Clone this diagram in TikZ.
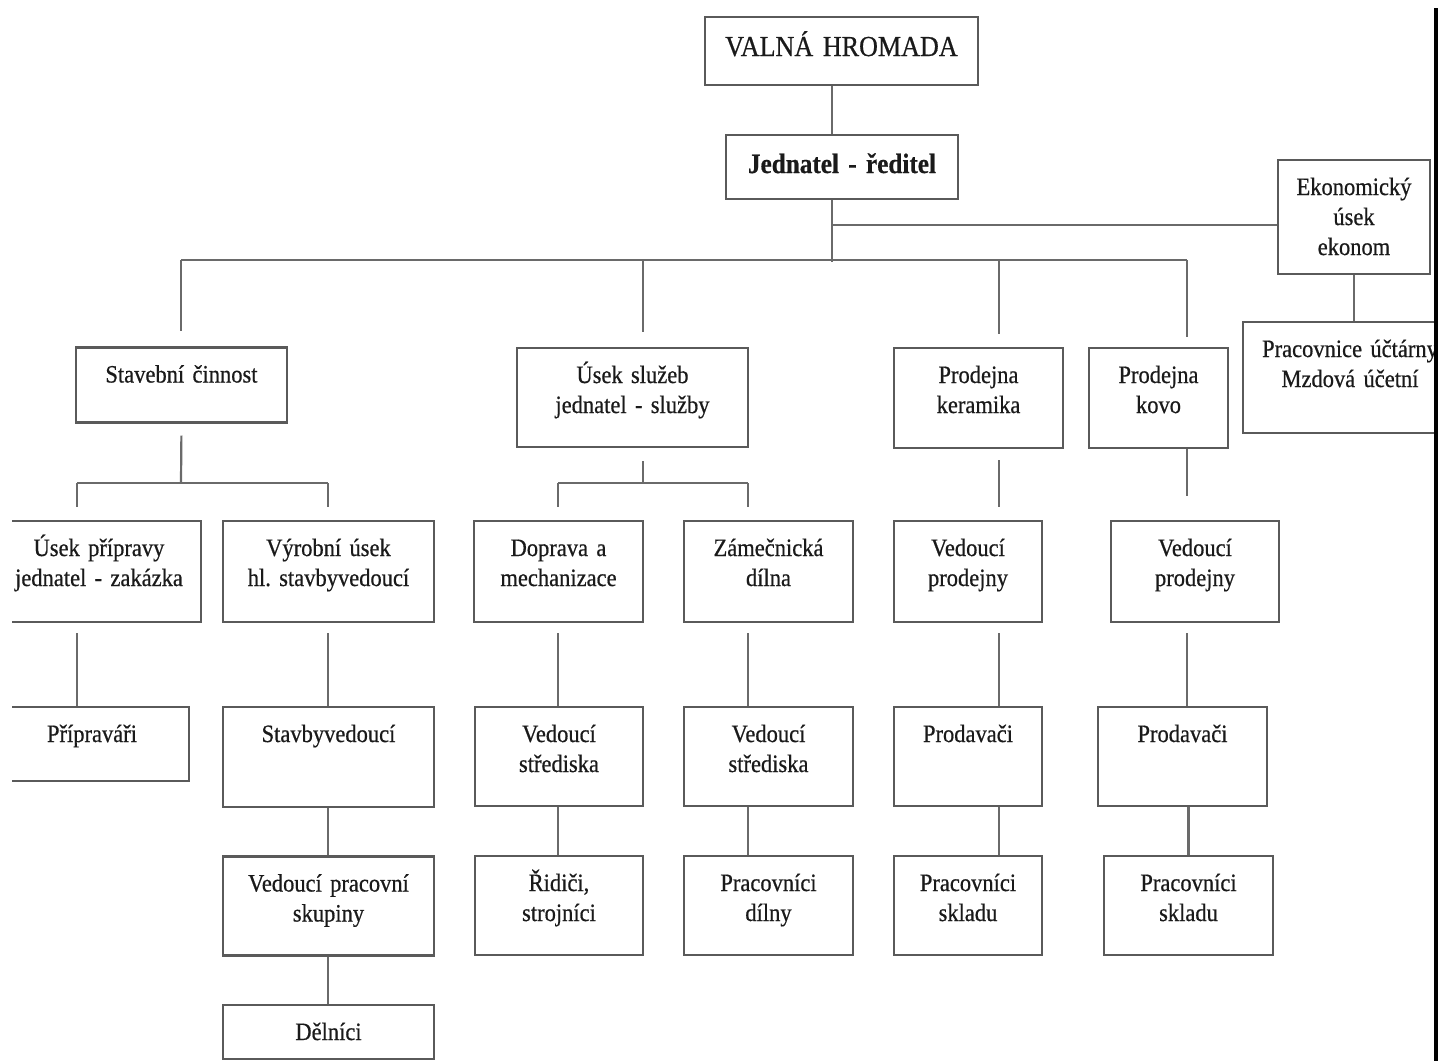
\documentclass[tikz,border=0pt]{standalone}
\usepackage{fontspec}
\setmainfont{Liberation Serif}[FakeStretch=0.9, FakeBold=0.6, WordSpace=0.75]
\usepackage{tikz}
\usetikzlibrary{positioning}
\definecolor{framegray}{HTML}{5A5A5A}
\definecolor{linegray}{HTML}{6A6A6A}
\definecolor{inkblack}{HTML}{1A1A1A}
\newcommand{\boxfont}{\fontsize{25pt}{30pt}\selectfont\frenchspacing}
\newcommand{\topfont}{\fontsize{29pt}{34pt}\selectfont}
\newcommand{\chieffont}{\fontsize{28pt}{33pt}\selectfont\bfseries}
\tikzset{
    box/.style 2 args={draw=framegray, line width=2.4pt, text=inkblack, font=\boxfont,
        inner xsep=0pt, inner ysep=14pt, align=center,
        text width=#1pt, text height=21pt, text depth=#2pt-49pt}, % width and height of the box, text sits at the top
    conn/.style={draw=linegray, line width=2.2pt}, % the connecting lines
}

\begin{document}
\begin{tikzpicture}[x=1pt, y=-1pt]
    \useasboundingbox (0,0) rectangle (1438,1061);
    \begin{scope}
        \clip (12,10) rectangle (1434,1061);

        % top of the company
        \node[box={273}{68}, font=\topfont, text height=25pt, text depth=15pt] (vh) at (841.5,51) {VALNÁ HROMADA};
        \node[box={232}{64}, font=\chieffont, text height=24pt, text depth=12pt] (jr) at (842,167) {Jednatel - ředitel};
        \node[box={152}{114}] (ek) at (1354,217) {Ekonomický\\úsek\\ekonom};
        \node[box={214}{111}] (pu) at (1350,377.5) {Pracovnice účtárny\\Mzdová účetní};

        % departments
        \node[box={211}{75}] (sc) at (181.5,385) {Stavební činnost};
        \node[box={231}{99}] (us) at (632.5,397.5) {Úsek služeb\\jednatel - služby};
        \node[box={169}{100}] (pk) at (978.5,398) {Prodejna\\keramika};
        \node[box={139}{100}] (pko) at (1158.5,398) {Prodejna\\kovo};

        % second row
        \node[box={204}{101}] (up) at (99,571.5) {Úsek přípravy\\jednatel - zakázka};
        \node[box={211}{101}] (vu) at (328.5,571.5) {Výrobní úsek\\hl. stavbyvedoucí};
        \node[box={169}{101}] (dm) at (558.5,571.5) {Doprava a\\mechanizace};
        \node[box={169}{101}] (zd) at (768.5,571.5) {Zámečnická\\dílna};
        \node[box={148}{101}] (vp1) at (968,571.5) {Vedoucí\\prodejny};
        \node[box={168}{101}] (vp2) at (1195,571.5) {Vedoucí\\prodejny};

        % third row
        \node[box={194}{74}] (pr) at (92,744) {Přípraváři};
        \node[box={211}{100}] (sv) at (328.5,757) {Stavbyvedoucí};
        \node[box={168}{99}] (vs1) at (559,756.5) {Vedoucí\\střediska};
        \node[box={169}{99}] (vs2) at (768.5,756.5) {Vedoucí\\střediska};
        \node[box={148}{99}] (pd1) at (968,756.5) {Prodavači};
        \node[box={169}{99}] (pd2) at (1182.5,756.5) {Prodavači};

        % fourth row
        \node[box={211}{99}] (vps) at (328.5,906) {Vedoucí pracovní\\skupiny};
        \node[box={168}{99}] (rs) at (559,905.5) {Řidiči,\\strojníci};
        \node[box={169}{99}] (pdi) at (768.5,905.5) {Pracovníci\\dílny};
        \node[box={148}{99}] (ps1) at (968,905.5) {Pracovníci\\skladu};
        \node[box={169}{99}] (ps2) at (1188.5,905.5) {Pracovníci\\skladu};
        \node[box={211}{54}, text depth=5pt] (dl) at (328.5,1032) {Dělníci};

        % joints of the lines
        \coordinate (trunk) at (832,262);
        \coordinate (ekjoin) at (832,225);
        \coordinate (busL) at (181,260);
        \coordinate (busU) at (643,260);
        \coordinate (busP) at (999,260);
        \coordinate (busR) at (1187,260);
        \coordinate (scjoin) at (181,483);
        \coordinate (scL) at (77,483);
        \coordinate (scR) at (328,483);
        \coordinate (usjoin) at (643,483);
        \coordinate (usL) at (558,483);
        \coordinate (usR) at (748,483);

        \draw[conn] (vh.south -| trunk) -- (jr.north -| trunk);
        \draw[conn] (jr.south -| trunk) -- (trunk);
        \draw[conn] (ekjoin) -- (ek.west |- ekjoin);
        \draw[conn] (ek.south) -- (ek.south |- pu.north);
        \draw[conn] (busL) -- (busR);
        \draw[conn, shorten >=15pt] (busL) -- (sc.north -| busL);
        \draw[conn, shorten >=15pt] (busU) -- (us.north -| busU);
        \draw[conn, shorten >=13pt] (busP) -- (pk.north -| busP);
        \draw[conn, shorten >=10pt] (busR) -- (pko.north -| busR);

        \draw[conn, shorten <=12pt] (sc.south) -- (scjoin);
        \draw[conn] (scL) -- (scR);
        \draw[conn, shorten >=13pt] (scL) -- (up.north -| scL);
        \draw[conn, shorten >=13pt] (scR) -- (vu.north -| scR);
        \draw[conn, shorten <=13pt] (us.south -| usjoin) -- (usjoin);
        \draw[conn] (usL) -- (usR);
        \draw[conn, shorten >=13pt] (usL) -- (dm.north -| usL);
        \draw[conn, shorten >=13pt] (usR) -- (zd.north -| usR);
        \draw[conn, shorten <=11pt, shorten >=13pt] (pk.south -| busP) -- (vp1.north -| busP);
        \draw[conn, shorten >=24pt] (pko.south -| busR) -- (vp2.north -| busR);

        \draw[conn, shorten <=10pt] (up.south -| scL) -- (pr.north -| scL);
        \draw[conn, shorten <=10pt] (vu.south -| scR) -- (sv.north -| scR);
        \draw[conn, shorten <=10pt] (dm.south -| usL) -- (vs1.north -| usL);
        \draw[conn, shorten <=10pt] (zd.south -| usR) -- (vs2.north -| usR);
        \draw[conn, shorten <=10pt] (vp1.south -| busP) -- (pd1.north -| busP);
        \draw[conn, shorten <=10pt] (vp2.south -| busR) -- (pd2.north -| busR);

        \draw[conn] (sv.south -| scR) -- (vps.north -| scR);
        \draw[conn] (vs1.south -| usL) -- (rs.north -| usL);
        \draw[conn] (vs2.south -| usR) -- (pdi.north -| usR);
        \draw[conn] (pd1.south -| busP) -- (ps1.north -| busP);
        \draw[conn] (pd2.south -| ps2.north) -- (ps2.north);
        \draw[conn] (vps.south -| scR) -- (dl.north -| scR);
    \end{scope}
    \draw[line width=4pt] (1436,8) -- (1436,1061);
\end{tikzpicture}
\end{document}
